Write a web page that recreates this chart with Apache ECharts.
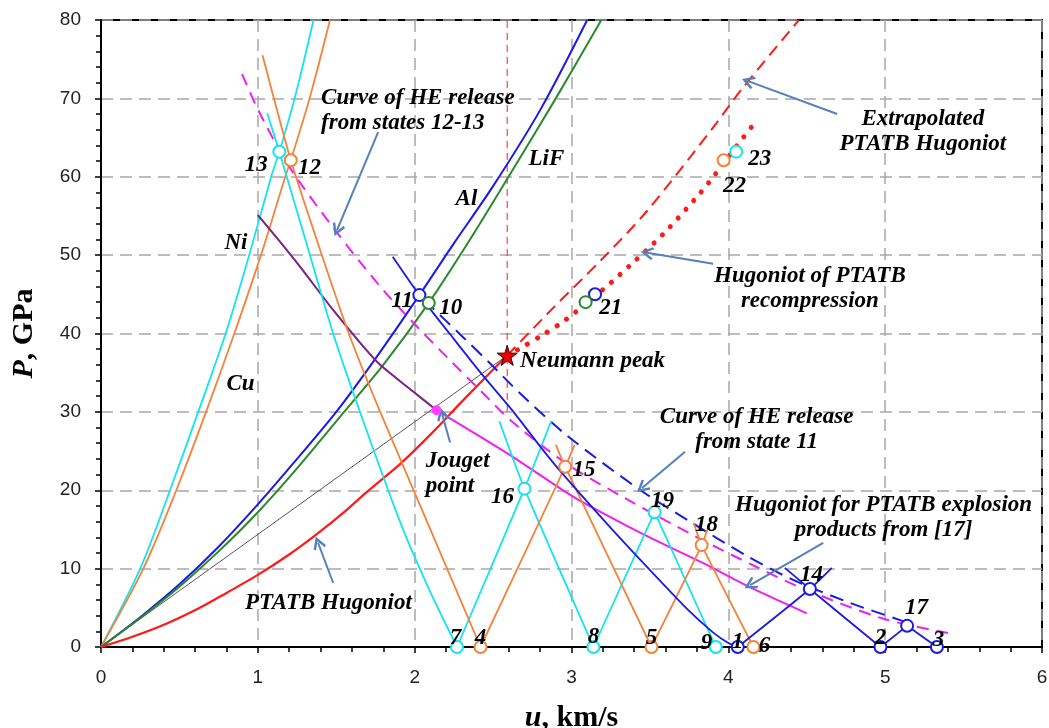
<!DOCTYPE html>
<html>
<head>
<meta charset="utf-8">
<script src="https://cdn.jsdelivr.net/npm/echarts@6/dist/echarts.min.js"></script>
<style>html,body{margin:0;padding:0;background:#fff}#c{width:1049px;height:728px}</style>
</head>
<body>
<div id="c"></div>
<script>
// ---------------- data (u in km/s, P in GPa) ----------------
const xTicks = [0, 1, 2, 3, 4, 5, 6];
const yTicks = [0, 10, 20, 30, 40, 50, 60, 70, 80];

const niHugoniot  = [[0,0],[0.25,10],[0.44,20],[0.62,30],[0.795,40],[0.945,50],[1.085,60],[1.137,63.2],[1.235,70],[1.355,80]];
const cuHugoniot  = [[0,0],[0.27,10],[0.48,20],[0.67,30],[0.85,40],[1.02,50],[1.175,60],[1.21,62.1],[1.33,70],[1.46,80]];
const alHugoniot  = [[0,0],[0.25,3.8],[0.5,8.0],[0.75,12.8],[1.0,18.2],[1.25,24.0],[1.5,30.0],[1.75,36.8],[2.03,44.9],[2.25,51.5],[2.5,58.8],[2.8,68.5],[3.1,80]];
const lifHugoniot = [[0,0],[0.25,3.7],[0.5,7.7],[0.75,12.2],[1.0,17.2],[1.25,22.8],[1.5,28.8],[1.8,36.0],[2.09,43.9],[2.35,51.9],[2.58,59.4],[2.9,70.0],[3.19,80]];
const ptatbHugoniot = [[0,0],[0.2,1.3],[0.42,3.0],[0.63,5.0],[0.8,6.9],[1.0,9.2],[1.2,11.8],[1.37,14.3],[1.55,17.2],[1.69,19.7],[1.91,23.4],[2.10,27.1],[2.31,31.5],[2.53,36.0],[2.59,37.2]];
const extrapolatedHugoniot = [[2.59,37.2],[2.88,43.2],[3.20,49.6],[3.48,55.6],[3.90,66.2],[4.09,71.3],[4.45,80]];
const recompressionHugoniot = [[2.59,37.2],[2.69,38.3],[2.83,40.0],[2.96,41.7],[3.20,45.6],[3.39,49.0],[3.59,52.8],[3.82,57.9],[3.92,60.4],[4.06,64.1],[4.17,66.9]];
const rayleighLine = [[0,0],[2.59,37.2]];
const neumannVertical = [[2.59,30],[2.59,80]];
const niRelease = [[1.0,55.1],[1.15,51.5],[1.27,48.5],[1.48,43.0],[1.67,38.4],[1.78,36.0],[1.99,32.6],[2.14,30.2]];
const productsHugoniot = [[2.14,30.2],[2.42,26.8],[2.63,24.2],[2.93,20.2],[3.05,18.7],[3.35,15.5],[3.60,13.0],[3.85,10.6],[4.14,7.6],[4.50,4.3]];
const release1213 = [[0.90,73.1],[1.00,68.6],[1.20,61.3],[1.50,53.0],[1.78,46.0],[1.99,41.4],[2.21,36.9],[2.42,32.7],[2.63,28.6],[2.99,23.1],[3.35,18.9],[3.80,14.0],[4.17,10.3],[4.46,7.6],[4.99,3.6],[5.40,1.8]];
const release11 = [[2.06,44.3],[2.31,39.5],[2.48,36.2],[2.67,32.4],[2.97,27.0],[3.44,20.0],[3.74,16.2],[4.12,11.6],[4.41,8.6],[4.78,5.6],[5.10,3.4],[5.15,3.0]];

const niWaves = [
  [[1.06,68.1],[1.137,63.2],[1.31,51.5],[1.48,40.0],[1.66,29.5],[1.91,15.8],[2.10,7.0],[2.27,0]],
  [[2.27,0],[2.70,20.2],[2.87,28.8]],
  [[2.54,28.8],[2.70,20.2],[3.14,0]],
  [[3.14,0],[3.53,17.2]],
  [[3.53,17.2],[3.92,0]]
];
const cuWaves = [
  [[1.03,75.5],[1.21,62.1],[1.40,50.5],[1.58,40.0],[1.78,30.0],[2.10,15.0],[2.42,0]],
  [[2.42,0],[2.96,23.0],[3.02,25.8]],
  [[2.90,25.8],[2.96,23.0],[3.51,0]],
  [[3.51,0],[3.83,13.0],[3.88,15.8]],
  [[3.78,15.8],[3.83,13.0],[4.16,0]]
];
const alWaves = [
  [[1.86,49.8],[2.03,44.9],[2.23,39.8],[2.42,35.0],[2.63,30.0],[2.80,25.6],[2.93,22.4],[3.25,15.2],[3.52,9.4],[3.75,4.6],[3.90,1.9],[4.00,0.5],[4.06,0]],
  [[4.06,0],[4.52,7.4],[4.66,10.1]],
  [[4.36,10.1],[4.52,7.4],[4.97,0]],
  [[4.97,0],[5.14,2.7]],
  [[5.14,2.7],[5.33,0]]
];

const cyanStates   = [[1.137,63.2],[2.27,0],[2.70,20.2],[3.14,0],[3.53,17.2],[3.92,0],[4.05,63.2]];
const orangeStates = [[1.21,62.1],[2.42,0],[2.96,23.0],[3.51,0],[3.83,13.0],[4.16,0],[3.97,62.1]];
const blueStates   = [[2.03,44.9],[4.06,0],[4.52,7.4],[4.97,0],[5.14,2.7],[5.33,0],[3.15,45.0]];
const greenStates  = [[2.09,43.9],[3.09,44.0]];
const neumannPeak  = [[2.59,37.2]];
const jougetPoint  = [[2.14,30.2]];

const stateNumbers = ['13','12','11','10','21','22','23','7','4','8','5','9','1','6','16','15','19','18','14','2','17','3'];
const stateNumberPos = [[0.99,62.0],[1.33,61.6],[1.92,44.6],[2.23,43.8],[3.25,43.8],[4.04,59.3],[4.20,62.8],[2.26,1.6],[2.42,1.6],[3.14,1.8],[3.51,1.7],[3.86,1.0],[4.06,1.1],[4.23,0.6],[2.56,19.6],[3.08,23.1],[3.58,19.1],[3.86,16.1],[4.53,9.7],[4.97,1.7],[5.20,5.5],[5.34,1.4]];
const materialNames = ['Ni','Cu','Al','LiF'];
const materialPos = [[0.86,52.0],[0.89,34.1],[2.33,57.6],[2.84,62.8]];

// annotations: text, anchor (data coords), alignment
const notes = [
  ['Curve of HE release\nfrom states 12-13', [1.403,68.9], 'left'],
  ['Extrapolated\nPTATB Hugoniot', [5.24,66.3], 'center'],
  ['Hugoniot of PTATB\nrecompression', [4.52,46.2], 'center'],
  ['Curve of HE release\nfrom state 11', [4.18,28.3], 'center'],
  ['Hugoniot for PTATB explosion\nproducts from [17]', [4.99,17.0], 'center'],
  ['PTATB Hugoniot', [1.45,6.1], 'center'],
  ['Jouget\npoint', [2.07,22.6], 'left'],
  ['Neumann peak', [2.672,37.0], 'left']
];
const arrows = [
  [[1.767,65.7],[1.505,53.2]],
  [[4.694,68.0],[4.126,72.2]],
  [[3.903,48.9],[3.482,50.3]],
  [[3.724,24.9],[3.450,20.3]],
  [[4.605,13.3],[4.139,7.9]],
  [[2.226,26.1],[2.175,29.7]],
  [[1.480,8.2],[1.384,13.3]]
];

// ---------------- styles ----------------
const C = {
  cyan:'#14E4EE', orange:'#F5823A', blue:'#1A1AE6', green:'#2A8A2A',
  red:'#FF1A1A', magenta:'#F020F0', purple:'#7A2080', arrow:'#5580BC', text:'#000'
};
const serif = 'Liberation Serif';
const sans = 'Liberation Sans';

function line(data, color, width, type, smooth, z) {
  return {type:'line', data, symbol:'none', smooth: smooth || false,
    lineStyle:{color, width, type: type || 'solid', cap:'butt', opacity:1}, silent:true, z: z || 3, clip:true};
}
function circles(data, color) {
  return {type:'scatter', data, symbol:'circle', symbolSize:12,
    itemStyle:{color:'#fff', borderColor:color, borderWidth:2, opacity:1}, silent:true, z:6};
}

const series = [];
series.push(line(rayleighLine, '#555', 1, 'solid', false, 2));
series.push(line(neumannVertical, C.red, 1, [7,5], false, 2));
series.push(line(niHugoniot, C.cyan, 1.8, 'solid', 0.3));
series.push(line(cuHugoniot, C.orange, 1.8, 'solid', 0.3));
series.push(line(alHugoniot, C.blue, 2, 'solid', 0.3));
series.push(line(lifHugoniot, C.green, 2, 'solid', 0.3));
series.push(line(ptatbHugoniot, C.red, 2.2, 'solid', 0.3));
series.push(line(extrapolatedHugoniot, C.red, 2, [12,7], 0.3));
series.push(line(recompressionHugoniot, C.red, 5, [0.1,11.5], 0.3));
series[series.length-1].lineStyle.cap = 'round';
series.push(line(niRelease, C.purple, 2, 'solid', 0.3));
series.push(line(productsHugoniot, C.magenta, 2, 'solid', 0.3));
series.push(line(release1213, C.magenta, 2, [12,8], 0.3));
series.push(line(release11, C.blue, 2, [14,8], 0.3));
niWaves.forEach(w => series.push(line(w, C.cyan, 1.8, 'solid', 0.2)));
cuWaves.forEach(w => series.push(line(w, C.orange, 1.8, 'solid', 0.2)));
alWaves.forEach(w => series.push(line(w, C.blue, 1.8, 'solid', 0.2)));
series.push(circles(cyanStates, C.cyan));
series.push(circles(orangeStates, C.orange));
series.push(circles(blueStates, C.blue));
series.push(circles(greenStates, C.green));
series.push({type:'scatter', data:jougetPoint, symbol:'circle', symbolSize:10,
  itemStyle:{color:'#FF40FF', opacity:1}, silent:true, z:7});
series.push({type:'scatter', data:neumannPeak,
  symbol:'path://M50,0 L61,35 L98,35 L68,57 L79,91 L50,70 L21,91 L32,57 L2,35 L39,35 Z',
  symbolSize:20, itemStyle:{color:'#E80000', borderColor:'#300', borderWidth:1, opacity:1}, silent:true, z:8});

const labelFont = {fontFamily:serif, fontStyle:'italic', fontWeight:'bold', fontSize:23,
  color:C.text, opacity:1, textBorderWidth:0, textBorderColor:'transparent', offset:[0,4]};
function textSeries(names, pos) {
  return {type:'scatter', symbolSize:0, silent:true, z:10, itemStyle:{opacity:1},
    data: names.map((n,i) => ({name:n, value:pos[i]})),
    label: Object.assign({show:true, position:'inside', formatter: p => p.name}, labelFont)};
}
series.push(textSeries(stateNumbers, stateNumberPos));
series.push(textSeries(materialNames, materialPos));
series.push({type:'scatter', symbolSize:0, silent:true, z:10, itemStyle:{opacity:1},
  data: notes.map(n => ({name:n[0], value:n[1],
    label:Object.assign({show:true, position:'inside', align:n[2], lineHeight:25, formatter: p => p.name}, labelFont)})),
  label: Object.assign({show:true, position:'inside', lineHeight:25}, labelFont)});

const chevron = 'path://M50,0 L100,80 L86,92 L50,34 L14,92 L0,80 Z';
series.push({type:'scatter', data:[], symbolSize:0, silent:true, z:9,
  markLine:{silent:true, animation:false, label:{show:false},
    lineStyle:{color:C.arrow, width:2, type:'solid', opacity:1},
    data: arrows.map(a => [
      {coord:a[0], symbol:'none'},
      {coord:a[1], symbol:chevron, symbolSize:[13,13]}
    ])}});

const axisCommon = {
  type:'value',
  axisLine:{show:true, onZero:false, lineStyle:{color:'#000', width:2}},
  axisTick:{show:true, length:6, lineStyle:{color:'#000', width:1.5}},
  minorTick:{show:true, splitNumber:5, length:5, lineStyle:{color:'#000', width:1.5}},
  splitLine:{show:true, lineStyle:{color:'#A8A8A8', width:1.5, type:[12,7]}},
  nameLocation:'middle',
  nameTextStyle:{fontFamily:serif, fontWeight:'bold', fontSize:30, color:C.text,
    rich:{i:{fontFamily:serif, fontWeight:'bold', fontStyle:'italic', fontSize:30, color:C.text}}}
};

const option = {
  animation:false,
  backgroundColor:'#fff',
  grid:{left:101, right:7, top:20, bottom:81, show:true, borderColor:'#000', borderWidth:2,
    containLabel:false, outerBoundsMode:'none'},
  xAxis: Object.assign({}, axisCommon, {
    min:xTicks[0], max:xTicks[xTicks.length-1], interval:1,
    name:'{i|u}, km/s', nameGap:56,
    axisLabel:{fontFamily:sans, fontSize:19, color:'#222', margin:21}
  }),
  yAxis: Object.assign({}, axisCommon, {
    min:yTicks[0], max:yTicks[yTicks.length-1], interval:10,
    name:'{i|P}, GPa', nameGap:62, nameRotate:90,
    axisLabel:{fontFamily:sans, fontSize:19, color:'#222', margin:20}
  }),
  series
};

const chart = echarts.init(document.getElementById('c'), null, {renderer:'canvas'});
chart.setOption(option);
</script>
</body>
</html>
